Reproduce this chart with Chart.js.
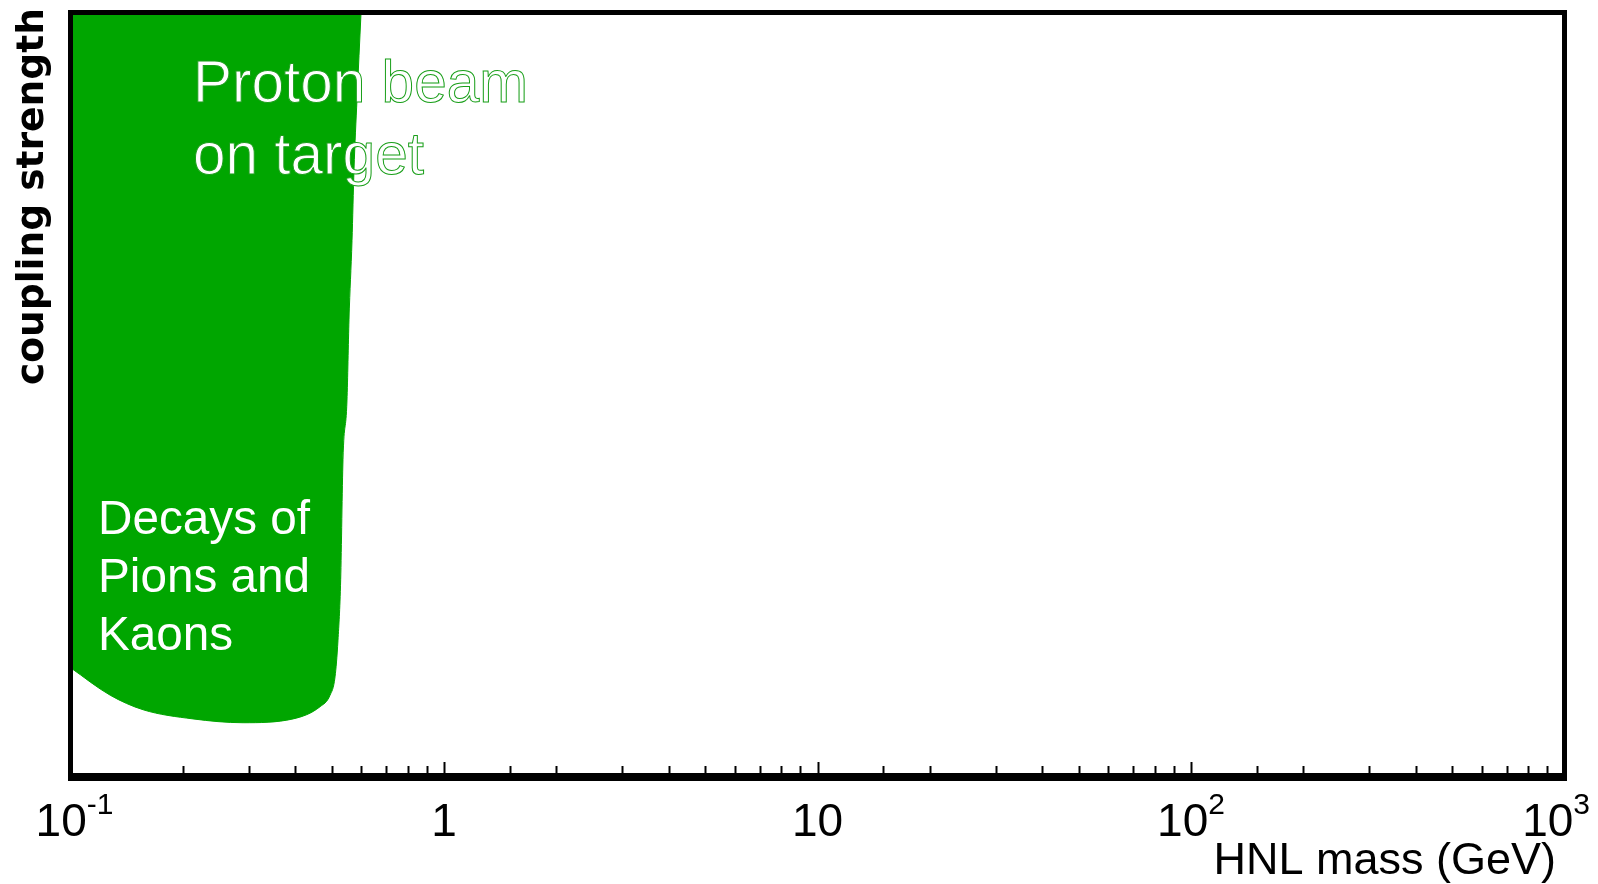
<!DOCTYPE html>
<html>
<head>
<meta charset="utf-8">
<title>HNL mass vs coupling strength</title>
<script src="https://cdn.jsdelivr.net/npm/chart.js@4.4.1/dist/chart.umd.min.js"></script>
<style>
  html, body { margin: 0; padding: 0; background: #fff; }
  #wrap { width: 1598px; height: 884px; position: relative; }
</style>
</head>
<body>
<div id="wrap"><canvas id="hnlChart"></canvas></div>
<script>
// lower edge of the excluded region (x in GeV, y in arbitrary coupling units 0..1)
const massGeV = [0.1, 0.1277, 0.1564, 0.2128, 0.2897, 0.3945, 0.4659, 0.4953, 0.5108, 0.5202, 0.5289, 0.5365, 0.5499, 0.5567, 0.5672, 0.5741, 0.5848, 0.5996];
const couplingEdge = [0.143, 0.107, 0.088, 0.076, 0.071, 0.076, 0.092, 0.107, 0.131, 0.179, 0.258, 0.415, 0.493, 0.598, 0.702, 0.794, 0.886, 1.0];

// axis labels
const tickValues = [0.1, 1, 10, 100, 1000];
const tickBases = ['10', '1', '10', '10', '10'];
const tickExps = ['-1', '', '', '2', '3'];

const regionLabels = [
    { lines: ['Proton beam', 'on target'] },
    { lines: ['Decays of', 'Pions and', 'Kaons'] }
];

const GREEN = '#00a600';

// frame, inward ticks, tick labels, titles and region captions
const decorations = {
    id: 'decorations',
    afterDatasetsDraw(chart) {
        const { ctx, chartArea: a, scales: { x } } = chart;
        ctx.save();

        // region captions: white text with a thin green outline
        ctx.font = '58.5px "Liberation Sans", Arial, sans-serif';
        ctx.fillStyle = '#fff';
        ctx.strokeStyle = '#1a9f1a';
        ctx.lineWidth = 1;
        ctx.textBaseline = 'alphabetic';
        ctx.textAlign = 'left';
        regionLabels[0].lines.forEach((t, i) => {
            ctx.fillText(t, 193, 102 + i * 72);
            ctx.strokeText(t, 193, 102 + i * 72);
        });
        ctx.font = '47.7px "Liberation Sans", Arial, sans-serif';
        regionLabels[1].lines.forEach((t, i) => {
            ctx.fillText(t, 98, 534 + i * 58);
        });

        // minor / major ticks pointing into the plot
        ctx.strokeStyle = '#000';
        ctx.lineWidth = 2;
        const base = a.bottom - 3;
        x.ticks.forEach(tk => {
            const v = tk.value;
            if (v <= x.min || v >= x.max) return;
            const lg = Math.log10(v);
            const major = Math.abs(lg - Math.round(lg)) < 1e-6;
            const px = Math.round(x.getPixelForValue(v)) + 0.5;
            ctx.beginPath();
            ctx.moveTo(px, base);
            ctx.lineTo(px, base - (major ? 12 : 8));
            ctx.stroke();
        });

        // frame
        ctx.lineWidth = 5;
        ctx.strokeRect(a.left, a.top, a.right - a.left, a.bottom - a.top);
        ctx.lineWidth = 8;
        ctx.beginPath();
        ctx.moveTo(a.left - 2.5, a.bottom);
        ctx.lineTo(a.right + 2.5, a.bottom);
        ctx.stroke();

        // tick labels with superscript exponents
        ctx.fillStyle = '#000';
        ctx.textAlign = 'left';
        tickValues.forEach((v, i) => {
            ctx.font = '46px "Liberation Sans", Arial, sans-serif';
            const wb = ctx.measureText(tickBases[i]).width;
            ctx.font = '30px "Liberation Sans", Arial, sans-serif';
            const we = tickExps[i] ? ctx.measureText(tickExps[i]).width : 0;
            let left = x.getPixelForValue(v) - (wb + we) / 2 + (i === 0 ? 4 : 0);
            left = Math.min(left, chart.width - 8 - wb - we);
            ctx.font = '46px "Liberation Sans", Arial, sans-serif';
            ctx.fillText(tickBases[i], left, 836);
            if (tickExps[i]) {
                ctx.font = '30px "Liberation Sans", Arial, sans-serif';
                ctx.fillText(tickExps[i], left + wb, 814);
            }
        });

        // axis titles
        ctx.font = '45px "Liberation Sans", Arial, sans-serif';
        ctx.textAlign = 'right';
        ctx.fillText('HNL mass (GeV)', 1556, 874);

        ctx.translate(43, 385);
        ctx.rotate(-Math.PI / 2);
        ctx.font = 'bold 37.6px "DejaVu Sans", sans-serif';
        ctx.textAlign = 'left';
        ctx.fillText('coupling strength', 0, 0);
        ctx.restore();
    }
};

const ctx = document.getElementById('hnlChart').getContext('2d');
new Chart(ctx, {
    type: 'line',
    data: {
        datasets: [{
            label: 'excluded',
            data: massGeV.map((m, i) => ({ x: m, y: couplingEdge[i] })),
            borderColor: GREEN,
            borderWidth: 1,
            backgroundColor: GREEN,
            fill: 'end',
            pointRadius: 0,
            cubicInterpolationMode: 'monotone'
        }]
    },
    options: {
        responsive: true,
        maintainAspectRatio: false,
        animation: false,
        layout: {
            padding: { left: 70.5, right: 33.5, top: 12.5, bottom: 107 }
        },
        plugins: {
            legend: { display: false },
            tooltip: { enabled: false }
        },
        scales: {
            x: {
                type: 'logarithmic',
                min: 0.1,
                max: 1000,
                grid: { display: false, drawTicks: false },
                border: { display: false },
                ticks: { display: false }
            },
            y: {
                min: 0,
                max: 1,
                grid: { display: false, drawTicks: false },
                border: { display: false },
                ticks: { display: false }
            }
        }
    },
    plugins: [decorations]
});
</script>
</body>
</html>
